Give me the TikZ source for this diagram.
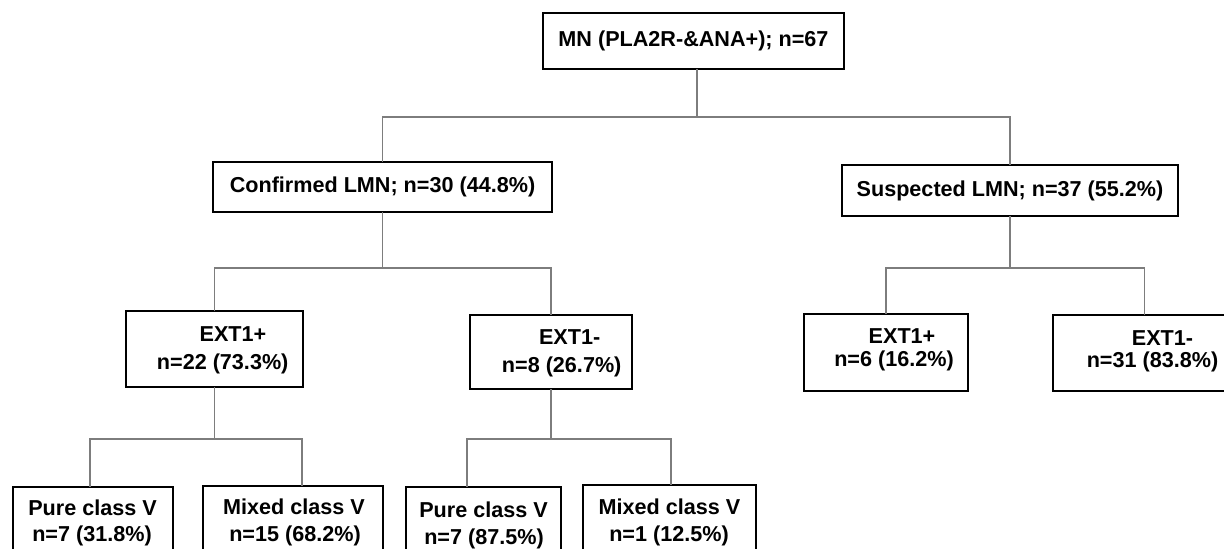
\documentclass[tikz,border=0pt]{standalone}
\usepackage{fontspec}
\setmainfont{Liberation Sans}
\definecolor{conncol}{RGB}{125,125,125}
\begin{document}
\begin{tikzpicture}[x=0.75pt,y=-0.75pt,
  box/.style={draw=black,line width=1.4pt,inner sep=0pt,outer sep=0pt,fill=white,
    font=\fontsize{16.2}{20}\selectfont\bfseries},
  conn/.style={draw=conncol,line width=0.8pt},
  txt/.style={font=\fontsize{16.2}{20}\selectfont\bfseries,inner sep=0pt,anchor=base}]
\useasboundingbox (0,0) rectangle (1224,549);
\clip (0,0) rectangle (1224,549);
\fill[white] (0,0) rectangle (1224,549);

% level 0
\node[box,minimum width=225.75pt,minimum height=42pt] (top) at (693.5,41) {MN (PLA2R-\&ANA+); n=67};
% level 1
\node[box,minimum width=254.25pt,minimum height=37.5pt] (conf) at (382.5,187) {Confirmed LMN; n=30 (44.8\%)};
\node[box,minimum width=252pt,minimum height=38.25pt] (susp) at (1010,190.5) {Suspected LMN; n=37 (55.2\%)};
% level 2
\node[box,minimum width=132.75pt,minimum height=57pt] (e1) at (214.5,349) {};
\node[txt] (e1a) at (233,341) {EXT1+};
\node[txt] (e1b) at (222.7,369) {n=22 (73.3\%)};
\node[box,minimum width=121.5pt,minimum height=55.5pt] (e2) at (551,352) {};
\node[txt] (e2a) at (569.6,344) {EXT1-};
\node[txt] (e2b) at (561.7,372) {n=8 (26.7\%)};
\node[box,minimum width=123pt,minimum height=57.75pt] (e3) at (886,352.5) {};
\node[txt] (e3a) at (902,343) {EXT1+};
\node[txt] (e3b) at (894,366) {n=6 (16.2\%)};
\node[box,minimum width=137.25pt,minimum height=57pt] (e4) at (1144.5,353) {};
\node[txt] (e4a) at (1162.5,345) {EXT1-};
\node[txt] (e4b) at (1152.5,367) {n=31 (83.8\%)};
% level 3
\node[box,minimum width=120pt,minimum height=62.25pt] (pL) at (93,528.5) {};
\node[txt] (pLa) at (92.5,515) {Pure class V};
\node[txt] (pLb) at (92,541) {n=7 (31.8\%)};
\node[box,minimum width=135pt,minimum height=63pt] (mL) at (293,528) {};
\node[txt] (mLa) at (294,514) {Mixed class V};
\node[txt] (mLb) at (295,541) {n=15 (68.2\%)};
\node[box,minimum width=116.25pt,minimum height=62.25pt] (p2) at (483.5,528.5) {};
\node[txt] (p2a) at (483.5,517) {Pure class V};
\node[txt] (p2b) at (484,544) {n=7 (87.5\%)};
\node[box,minimum width=129.75pt,minimum height=63.75pt] (m2) at (669.5,527.5) {};
\node[txt] (m2a) at (669.5,514) {Mixed class V};
\node[txt] (m2b) at (669,541) {n=1 (12.5\%)};

% connectors
\coordinate (j1) at (697,117);
\draw[conn] (top.south -| j1) -- (j1);
\draw[conn] (conf.north) |- (j1) -| (susp.north);

\coordinate (j2) at (382.5,268);
\draw[conn] (conf.south) -- (j2);
\draw[conn] (e1.north) |- (j2) -| (e2.north);

\coordinate (j3) at (1010,268);
\draw[conn] (susp.south) -- (j3);
\draw[conn] (e3.north) |- (j3) -| (e4.north);

\coordinate (j4) at (214.5,439);
\draw[conn] (e1.south) -- (j4);
\draw[conn] ([xshift=-2.25pt]pL.north) |- (j4) -| ([xshift=6.75pt]mL.north);

\coordinate (j5) at (551,439);
\draw[conn] (e2.south) -- (j5);
\draw[conn] ([xshift=-12.4pt]p2.north) |- (j5) -| ([xshift=1.1pt]m2.north);
\end{tikzpicture}
\end{document}
